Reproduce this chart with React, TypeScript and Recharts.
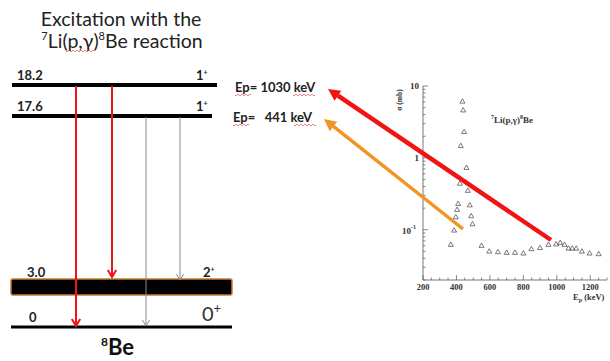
import React from 'react';
import { ScatterChart, Scatter, XAxis, YAxis } from 'recharts';

// 7Li(p,γ)8Be yield curve
const protonEnergy = [366, 386, 396, 404, 410, 420, 426, 436, 440, 446, 460, 468, 480, 488, 496, 550, 596, 648, 700, 750, 800, 848, 900, 950, 996, 1020, 1046, 1070, 1092, 1116, 1150, 1196, 1250];
const crossSection = [0.062, 0.098, 0.15, 0.19, 0.23, 0.44, 1.47, 6.1, 4.6, 2.3, 0.73, 0.35, 0.22, 0.155, 0.12, 0.06, 0.05, 0.049, 0.048, 0.048, 0.047, 0.054, 0.056, 0.062, 0.063, 0.066, 0.062, 0.055, 0.055, 0.055, 0.05, 0.047, 0.046];

const xTicks = [200, 250, 300, 350, 400, 450, 500, 550, 600, 650, 700, 750, 800, 850, 900, 950, 1000, 1050, 1100, 1150, 1200, 1250, 1300];
const xTickLabels = [200, 400, 600, 800, 1000, 1200];
const yTicks = [0.02, 0.03, 0.04, 0.05, 0.06, 0.07, 0.08, 0.09, 0.1, 0.2, 0.3, 0.4, 0.5, 0.6, 0.7, 0.8, 0.9, 1, 2, 3, 4, 5, 6, 7, 8, 9, 10];
const yTickLabels = [0.1, 1, 10];

// 8Be levels: energy label, spin
const levelNames = ['18.2', '17.6', '3.0', '0'];
const levelSpins = ['1', '1', '2', '0'];

const points = protonEnergy.map((e, i) => ({ e, s: crossSection[i] }));

const TIMES = '"Liberation Serif", "DejaVu Serif", serif';
const SANS = 'Lato, "Open Sans", sans-serif';
const RED = '#f01414';
const ORANGE = '#f39425';

const Triangle = (props: any) => {
  const { cx, cy } = props;
  if (cx == null || cy == null) return null;
  return <path d={`M${cx},${cy - 2.7} L${cx + 2.5},${cy + 1.7} L${cx - 2.5},${cy + 1.7} Z`} fill="none" stroke="#444" strokeWidth={0.7} />;
};

const YTick = (props: any) => {
  const { x, y, payload } = props;
  const v = payload.value;
  const major = yTickLabels.includes(v);
  return (
    <g>
      <line x1={x} x2={x + (major ? 5 : 2.5)} y1={y} y2={y} stroke="#555" strokeWidth={0.7} />
      {major && v === 0.1 && (
        <text x={x - 7} y={y + 4} textAnchor="end" fontFamily={TIMES} fontWeight="bold" fontSize={9} fill="#333">
          10<tspan fontSize={6} dy={-5}>-1</tspan>
        </text>
      )}
      {major && v !== 0.1 && (
        <text x={x - 4} y={y + 3} textAnchor="end" fontFamily={TIMES} fontWeight="bold" fontSize={9} fill="#333">{v}</text>
      )}
    </g>
  );
};

const XTick = (props: any) => {
  const { x, y, payload } = props;
  const v = payload.value;
  const major = xTickLabels.includes(v);
  return (
    <g>
      <line x1={x} x2={x} y1={y} y2={y - (major ? 5 : 2.5)} stroke="#555" strokeWidth={0.7} />
      {major && (
        <text x={x} y={y + 10} textAnchor="middle" fontFamily={TIMES} fontWeight="bold" fontSize={8.5} fill="#333">{v}</text>
      )}
    </g>
  );
};

function BigArrow({ x1, y1, x2, y2, color, w }: any) {
  const dx = x2 - x1;
  const dy = y2 - y1;
  const len = Math.sqrt(dx * dx + dy * dy);
  const ux = dx / len;
  const uy = dy / len;
  const hl = 12;
  const hw = 6;
  const bx = x2 - ux * hl;
  const by = y2 - uy * hl;
  return (
    <g>
      <line x1={x1} y1={y1} x2={bx} y2={by} stroke={color} strokeWidth={w} />
      <polygon points={`${x2},${y2} ${bx - uy * hw},${by + ux * hw} ${bx + uy * hw},${by - ux * hw}`} fill={color} />
    </g>
  );
}

function DownArrow({ x, y1, y2, color, w, head }: any) {
  return (
    <g fill="none" stroke={color} strokeWidth={w}>
      <line x1={x} x2={x} y1={y1} y2={y2} />
      <path d={`M${x - head * 0.6},${y2 - head} L${x},${y2} L${x + head * 0.6},${y2 - head}`} />
    </g>
  );
}

const Squiggle = ({ x, y, w }: any) => {
  let d = `M${x},${y}`;
  for (let i = 0; i < w; i += 2) d += ` l1,${i % 4 === 0 ? 1 : -1} l1,${i % 4 === 0 ? -1 : 1}`;
  return <path d={d} fill="none" stroke="#e03030" strokeWidth={0.6} />;
};

const LEVEL_Y = [85, 116, 287, 327];

export default function App() {
  return (
    <div style={{ position: 'absolute', left: 0, top: 0, width: 610, height: 361, background: '#fff', overflow: 'hidden' }}>
      <div style={{ position: 'absolute', left: 0, top: 0 }}>
        <ScatterChart width={610} height={361} margin={{ top: 86, right: 3, bottom: 61, left: 403 }}>
          <XAxis
            type="number"
            dataKey="e"
            domain={[200, 1300]}
            ticks={xTicks}
            interval={0}
            allowDataOverflow
            height={20}
            tickSize={0}
            tickMargin={0}
            tickLine={false}
            tick={<XTick />}
            axisLine={{ stroke: '#555', strokeWidth: 0.8 }}
          />
          <YAxis
            type="number"
            dataKey="s"
            scale="log"
            domain={[0.02, 10]}
            ticks={yTicks}
            interval={0}
            allowDataOverflow
            width={20}
            tickSize={0}
            tickMargin={0}
            tickLine={false}
            tick={<YTick />}
            axisLine={{ stroke: '#555', strokeWidth: 0.8 }}
          />
          <Scatter data={points} shape={<Triangle />} isAnimationActive={false} />
        </ScatterChart>
      </div>
      <svg width={610} height={361} style={{ position: 'absolute', left: 0, top: 0, pointerEvents: 'none' }}>
        {/* plot annotations */}
        <text transform="translate(402,100) rotate(-90)" textAnchor="middle" fontFamily={TIMES} fontWeight="bold" fontSize={7.5} fill="#333">σ (mb)</text>
        <text x={512} y={123} textAnchor="middle" fontFamily={TIMES} fontWeight="bold" fontSize={9} fill="#333">
          <tspan fontSize={6} dy={-4}>7</tspan><tspan dy={4}>Li(p,γ)</tspan><tspan fontSize={6} dy={-4}>8</tspan><tspan dy={4}>Be</tspan>
        </text>
        <text x={573} y={300} fontFamily={TIMES} fontWeight="bold" fontSize={8.5} fill="#333">
          E<tspan fontSize={6} dy={2}>p</tspan><tspan dy={-2}> (keV)</tspan>
        </text>

        {/* title */}
        <text x={121} y={26} textAnchor="middle" fontFamily={SANS} fontSize={19.5} fill="#222">Excitation with the</text>
        <text x={122} y={48} textAnchor="middle" fontFamily={SANS} fontSize={19.5} fill="#222">
          <tspan fontSize={11} dy={-8}>7</tspan><tspan dy={8}>Li(p,γ)</tspan><tspan fontSize={11} dy={-8}>8</tspan><tspan dy={8}>Be reaction</tspan>
        </text>
        <Squiggle x={66} y={51} w={28} />

        {/* level lines */}
        <line x1={12} x2={217} y1={LEVEL_Y[0]} y2={LEVEL_Y[0]} stroke="#000" strokeWidth={4} />
        <line x1={12} x2={212} y1={LEVEL_Y[1]} y2={LEVEL_Y[1]} stroke="#000" strokeWidth={4} />
        <rect x={11} y={279} width={221} height={16} rx={2} fill="#000" stroke="#c57a3a" strokeWidth={1.5} />
        <line x1={11} x2={232} y1={LEVEL_Y[3]} y2={LEVEL_Y[3]} stroke="#000" strokeWidth={3} />

        {/* level labels */}
        <text x={17} y={80} fontFamily={SANS} fontWeight="bold" fontSize={13} fill="#222">{levelNames[0]}</text>
        <text x={17} y={111} fontFamily={SANS} fontWeight="bold" fontSize={13} fill="#222">{levelNames[1]}</text>
        <text x={27} y={277} fontFamily={SANS} fontWeight="bold" fontSize={13} fill="#222">{levelNames[2]}</text>
        <text x={29} y={322} fontFamily={SANS} fontWeight="bold" fontSize={13} fill="#222">{levelNames[3]}</text>
        <text x={196} y={80} fontFamily={SANS} fontWeight="bold" fontSize={13} fill="#222">{levelSpins[0]}<tspan fontSize={7} dy={-5}>+</tspan></text>
        <text x={196} y={111} fontFamily={SANS} fontWeight="bold" fontSize={13} fill="#222">{levelSpins[1]}<tspan fontSize={7} dy={-5}>+</tspan></text>
        <text x={203} y={277} fontFamily={SANS} fontWeight="bold" fontSize={13} fill="#222">{levelSpins[2]}<tspan fontSize={7} dy={-5}>+</tspan></text>
        <text x={202} y={321} fontFamily={SANS} fontSize={20} fill="#333">{levelSpins[3]}<tspan fontSize={13} dy={-8}>+</tspan></text>

        {/* transitions */}
        <DownArrow x={146} y1={117} y2={326} color="#8a8a8a" w={1} head={6} />
        <DownArrow x={180} y1={117} y2={280} color="#8a8a8a" w={1} head={6} />
        <DownArrow x={76} y1={86} y2={326} color={RED} w={2} head={7} />
        <DownArrow x={112} y1={86} y2={277} color={RED} w={2} head={7} />

        <text x={101} y={355} fontFamily={SANS} fontWeight="bold" fontSize={22} fill="#111">
          <tspan fontSize={12} dy={-9}>8</tspan><tspan dy={9}>Be</tspan>
        </text>

        {/* resonance labels */}
        <text x={235} y={92} fontFamily={SANS} fontWeight="bold" fontSize={13} fill="#222">Ep= 1030 keV</text>
        <Squiggle x={235} y={95} w={16} />
        <Squiggle x={293} y={95} w={22} />
        <text x={233} y={122} fontFamily={SANS} fontWeight="bold" fontSize={13} fill="#222" style={{ whiteSpace: 'pre' }}>Ep=   441 keV</text>
        <Squiggle x={233} y={125} w={16} />
        <Squiggle x={294} y={125} w={22} />

        <BigArrow x1={463} y1={229} x2={324} y2={119} color={ORANGE} w={3.5} />
        <BigArrow x1={551} y1={240} x2={328} y2={89} color={RED} w={4.5} />
      </svg>
    </div>
  );
}
